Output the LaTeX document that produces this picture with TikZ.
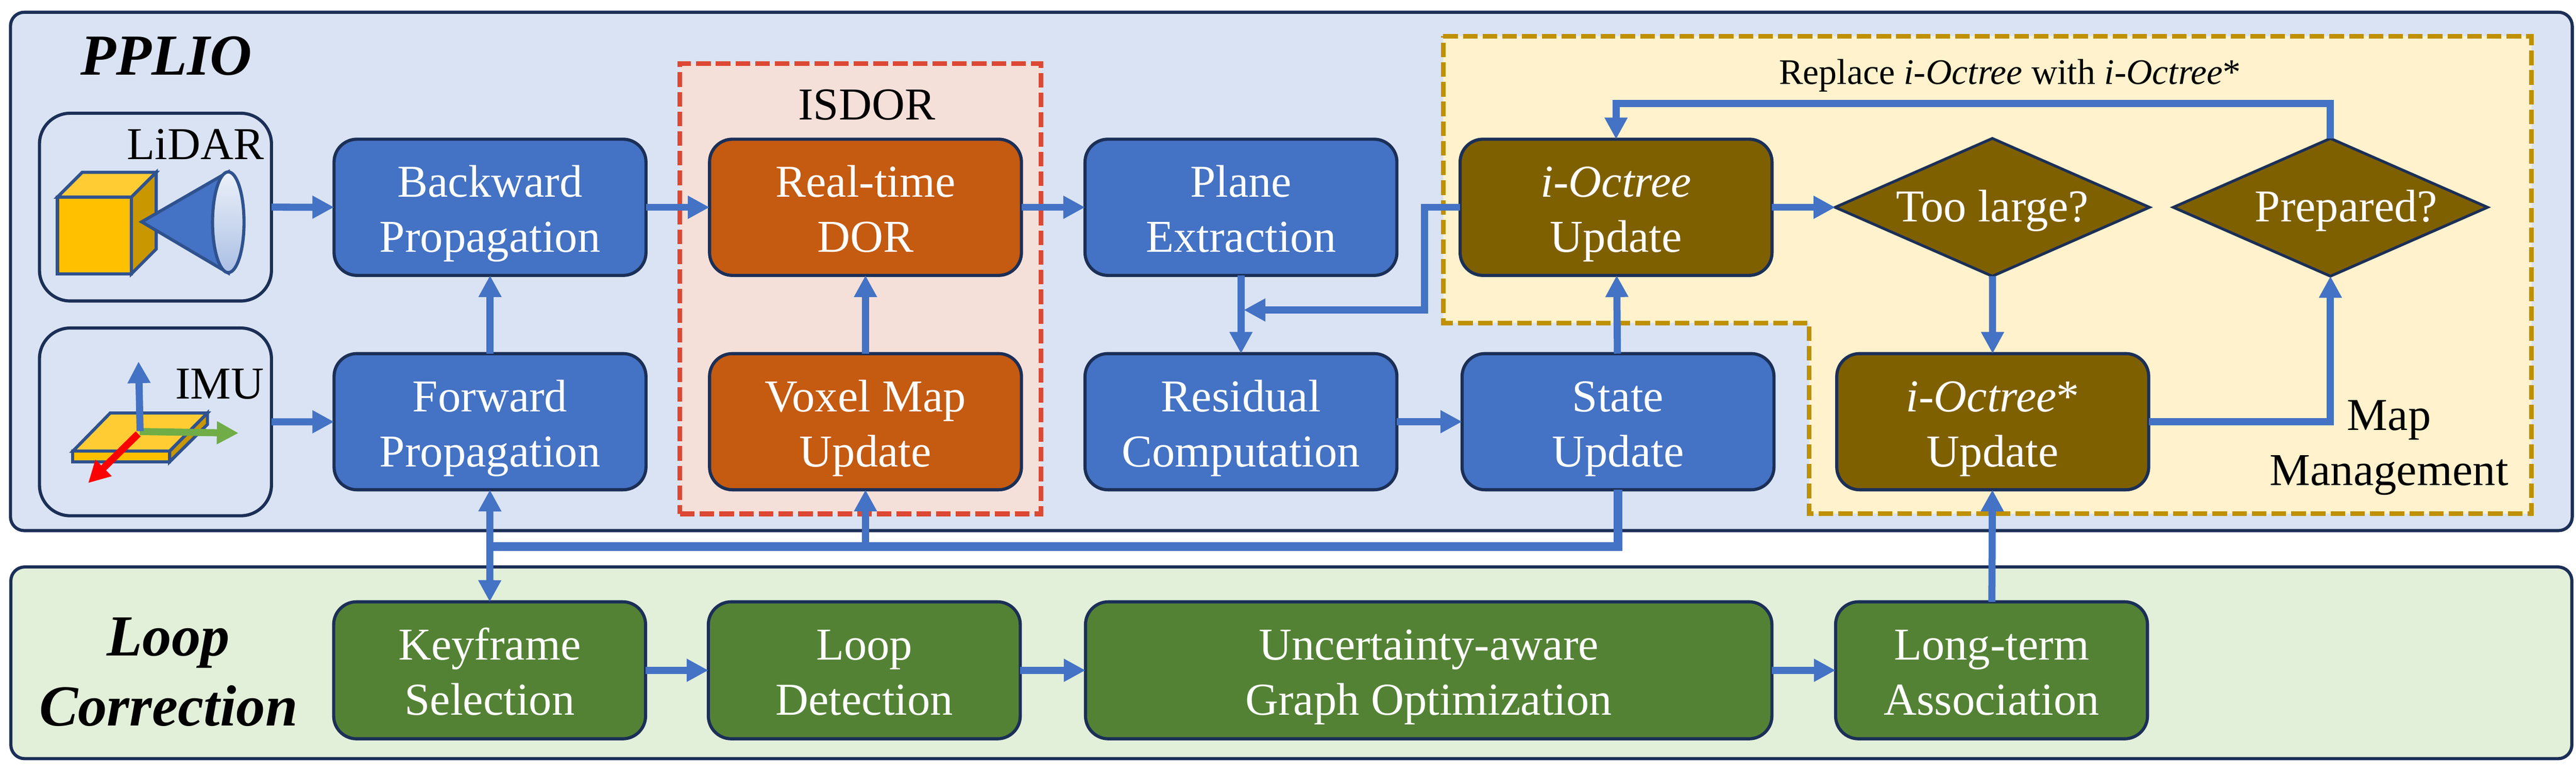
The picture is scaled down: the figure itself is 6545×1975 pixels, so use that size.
\documentclass[tikz,border=0pt]{standalone}
\usepackage{fontspec}
\setmainfont{Liberation Serif}
\usetikzlibrary{arrows.meta,shapes.geometric}
\definecolor{pplioback}{HTML}{DAE3F3}
\definecolor{loopback}{HTML}{E2EFD9}
\definecolor{isdorback}{HTML}{F5E0D9}
\definecolor{mapback}{HTML}{FFF2CC}
\definecolor{isdordash}{HTML}{DD4834}
\definecolor{mapdash}{HTML}{BF9000}
\definecolor{edgenavy}{HTML}{1B2F57}
\definecolor{blockblue}{HTML}{4472C4}
\definecolor{blockorange}{HTML}{C55A11}
\definecolor{blockbrown}{HTML}{7F6000}
\definecolor{blockgreen}{HTML}{548235}
\definecolor{iconedge}{HTML}{2F528F}
\definecolor{icontop}{HTML}{FFCD33}
\definecolor{iconfront}{HTML}{FFC000}
\definecolor{iconside}{HTML}{C99700}
\definecolor{axisgreen}{HTML}{70AD47}
\tikzset{
	bigtext/.style={font=\fontsize{33}{39.8}\selectfont},
	titletext/.style={font=\fontsize{42}{50.6}\selectfont\bfseries\itshape, align=center, inner sep=0pt},
	plaintext/.style={bigtext, inner sep=0pt, anchor=base},
	twolines/.style={align=center, text height=2.53cm, text depth=.25cm},
	panel/.style={draw=edgenavy, line width=.08cm, rounded corners=.35cm, outer sep=0pt},
	sensorbox/.style={draw=edgenavy, line width=.08cm, rounded corners=.78cm, minimum width=5.89cm, minimum height=4.77cm, outer sep=0pt},
	blockbox/.style={draw=edgenavy, line width=.08cm, rounded corners=.58cm, minimum width=7.92cm, minimum height=3.46cm,
		inner sep=0pt, outer sep=0pt, bigtext, text=white, twolines},
	bluebox/.style={blockbox, fill=blockblue},
	orangebox/.style={blockbox, fill=blockorange},
	brownbox/.style={blockbox, fill=blockbrown},
	greenbox/.style={blockbox, fill=blockgreen, minimum height=3.48cm},
	decide/.style={diamond, shape aspect=2.286, draw=edgenavy, line width=.07cm, fill=blockbrown, minimum width=7.98cm, minimum height=3.5cm,
		inner sep=0pt, outer sep=0pt, bigtext, text=white, text height=.9cm, text depth=.16cm},
	zone/.style={line width=.12cm, dash pattern=on .37cm off .13cm},
	flow/.style={draw=blockblue, line width=.18cm, -{Triangle[length=.55cm,width=.55cm]}},
	twoway/.style={draw=blockblue, line width=.18cm, {Triangle[length=.55cm,width=.55cm]}-{Triangle[length=.55cm,width=.55cm]}},
	bus/.style={draw=blockblue, line width=.22cm},
	iconline/.style={draw=iconedge, line width=.08cm, line join=miter},
}

\begin{document}
\begin{tikzpicture}[x=.01cm,y=-.01cm]
	\useasboundingbox (0,0) rectangle (6545,1975);

	%panels
	\node[panel, fill=pplioback, minimum width=65.05cm, minimum height=13.17cm] (pplio) at (3281,690) {};
	\node[panel, fill=loopback, minimum width=65.03cm, minimum height=4.87cm] (loopcorr) at (3281,1685) {};
	\node[titletext, anchor=base] (pplioname) at (422,191) {PPLIO};
	\node[titletext] (loopname) at (428,1708) {Loop\\Correction};

	%dashed zones
	\node[draw=isdordash, fill=isdorback, zone, minimum width=9.17cm, minimum height=11.44cm, outer sep=0pt] (isdorzone) at (2186.5,734) {};
	\path[draw=mapdash, fill=mapback, zone] (3667,92)--(6432,92)--(6432,1306)--(4597,1306)--(4597,821)--(3667,821)--cycle;

	%sensors
	\node[sensorbox] (lidarbox) at (395,526.5) {};
	\node[sensorbox] (imubox) at (395,1072.5) {};
	\path[iconline, fill=iconfront] (146,501) rectangle (334,696);
	\path[iconline, fill=icontop] (146,501)--(209,438)--(397,438)--(334,501)--cycle;
	\path[iconline, fill=iconside] (334,501)--(397,438)--(397,633)--(334,696)--cycle;
	\path[iconline, fill=blockblue] (360,564)--(580,437)--(580,694)--cycle;
	\path[iconline, top color=white!90!blockblue, bottom color=blockblue!45] (580,565) ellipse [x radius=40, y radius=128];
	\node[plaintext] (lidarname) at (497,405) {LiDAR};
	\path[iconline, fill=icontop] (185,1147)--(280,1050)--(527,1050)--(431,1147)--cycle;
	\path[iconline, fill=iconfront] (185,1147) rectangle (431,1174);
	\path[iconline, fill=iconside] (431,1147)--(527,1050)--(527,1079)--(431,1174)--cycle;
	\draw[axisgreen, line width=.18cm, -{Triangle[length=.55cm,width=.55cm]}] (355,1097)--(606,1101);
	\draw[red, line width=.18cm, -{Triangle[length=.55cm,width=.55cm]}] (351,1103)--(224,1228);
	\draw[blockblue, line width=.18cm, -{Triangle[length=.55cm,width=.55cm]}] (356,1096)--(352,919);
	\node[plaintext] (imuname) at (558,1014) {IMU};

	%labels
	\node[plaintext] (isdorname) at (2202,304) {ISDOR};
	\node[inner sep=0pt, anchor=base, font=\fontsize{26}{31}\selectfont] (replacename) at (5107,214) {Replace \textit{i-Octree} with \textit{i-Octree}*};
	\node[bigtext, inner sep=0pt, twolines] (mapname) at (6070,1119) {Map\\Management};

	%boxes
	\node[bluebox] (backward) at (1245,527) {Backward\\Propagation};
	\node[bluebox] (forward) at (1245,1072) {Forward\\Propagation};
	\node[orangebox] (dor) at (2199,527) {Real-time\\DOR};
	\node[orangebox] (voxel) at (2199,1072) {Voxel Map\\Update};
	\node[bluebox] (plane) at (3153,527) {Plane\\Extraction};
	\node[bluebox] (residual) at (3153,1072) {Residual\\Computation};
	\node[brownbox] (ioct) at (4106,527) {\textit{i-Octree}\\Update};
	\node[bluebox] (state) at (4111,1072) {State\\Update};
	\node[decide] (toolarge) at (5062,527) {Too large?};
	\node[decide] (prepared) at (5921,527) {\hspace{.8cm}Prepared?};
	\node[brownbox] (ioctstar) at (5063,1072) {\textit{i-Octree}*\\Update};
	\node[greenbox] (keyframe) at (1244,1704) {Keyframe\\Selection};
	\node[greenbox] (loopdet) at (2196,1704) {Loop\\Detection};
	\node[greenbox, minimum width=17.43cm] (graphopt) at (3630,1704) {Uncertainty-aware\\Graph Optimization};
	\node[greenbox] (longterm) at (5060,1704) {Long-term\\Association};

	%turning points
	\coordinate (mergeturn) at (3619,788);
	\coordinate (mergetip) at (3160,788);
	\coordinate (topturn) at (4106,263);
	\coordinate (busend) at (1239,1390);
	\coordinate (busvoxel) at (2199,1390);

	%arrows
	\draw[flow] (lidarbox) -- (backward);
	\draw[flow] (imubox) -- (forward);
	\draw[flow] (forward) -- (backward);
	\draw[flow] (backward) -- (dor);
	\draw[flow] (voxel) -- (dor);
	\draw[flow] (dor) -- (plane);
	\draw[flow] (plane) -- (residual);
	\draw[flow] (residual) -- (state);
	\draw[flow] (state) -- (ioct);
	\draw[flow] (ioct.west) -| (mergeturn) -- (mergetip);
	\draw[flow] (ioct) -- (toolarge);
	\draw[flow] (toolarge) -- (ioctstar);
	\draw[flow] (ioctstar.east) -| (prepared.south);
	\draw[flow] (prepared.north) |- (topturn) -- (ioct.north);
	\draw[bus] (state.south) |- (busend);
	\draw[flow] (busvoxel) -- (voxel);
	\draw[twoway] (forward) -- (keyframe);
	\draw[flow] (keyframe) -- (loopdet);
	\draw[flow] (loopdet) -- (graphopt);
	\draw[flow] (graphopt) -- (longterm);
	\draw[flow] (longterm) -- (ioctstar);
\end{tikzpicture}
\end{document}
